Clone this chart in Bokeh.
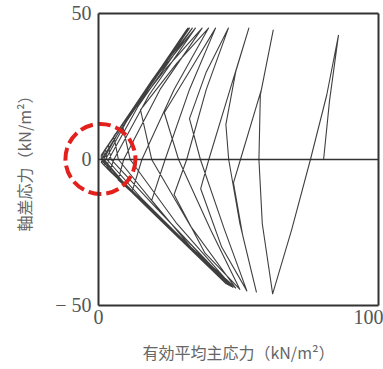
import numpy as np
from bokeh.plotting import figure
from bokeh.models import Range1d, FixedTicker, LinearAxis
from bokeh.embed import file_html
from bokeh.resources import INLINE

# Effective stress path (undrained cyclic triaxial test)
# p' : effective mean principal stress (kN/m2), q : deviator stress (kN/m2)
p_eff = [
    80.4, 82.5, 85.7,                       # initial loading
    81.5, 75.7, 69.0, 62.2,                 # cycle 1 down
    58.5, 57.3, 57.8, 62.4,                 # cycle 1 up
    58.2, 50.7, 48.2, 51.5, 56.4,           # cycle 2 down
    50.5, 46.5, 45.5, 49.0, 53.7,           # cycle 2 up
    47.0, 39.4, 36.5, 44.0, 53.0,           # cycle 3 down
    45.0, 36.4, 32.5, 38.5, 46.4,           # cycle 3 up
    38.5, 31.5, 27.0, 38.0, 50.5,           # cycle 4 down
    40.0, 28.6, 23.5, 33.0, 41.8,           # cycle 4 up
    32.5, 23.8, 19.0, 33.0, 49.0,           # cycle 5 down
    33.0, 19.0, 15.0, 28.0, 39.3,           # cycle 5 up
    27.0, 15.5, 12.0, 29.0, 48.0,           # cycle 6 down
    28.0, 11.3, 8.5, 24.0, 37.0,            # cycle 6 up
    22.0, 9.0, 7.0, 26.0, 47.5,             # cycle 7 down
    24.0, 7.1, 5.5, 22.0, 34.6,             # cycle 7 up
    18.0, 5.5, 4.0, 25.0, 47.0,             # cycle 8 down
    20.0, 4.5, 3.5, 20.0, 33.5,             # cycle 8 up
    14.0, 3.6, 3.0, 24.0, 46.5,             # cycle 9 down
    15.0, 3.0, 2.5, 19.0, 32.5,             # cycle 9 up
    10.0, 2.5, 2.0, 22.0, 46.0,             # cycle 10 down
    10.0, 2.0, 2.0, 18.0, 32.0,             # cycle 10 up
    7.0, 1.8, 1.5, 20.0, 46.0,              # cycle 11 down
    7.0, 1.5, 1.5, 17.0, 31.8,              # cycle 11 up
    5.0, 1.2, 1.0, 18.0, 45.5,              # cycle 12 down
    5.0, 1.0, 1.0, 16.0, 31.5,              # cycle 12 up
]
q_dev = [
    0.0, 20.0, 42.5,
    22.0, 0.0, -24.0, -46.0,
    -22.0, 0.0, 22.0, 44.3,
    24.0, 0.0, -8.0, -26.0, -45.4,
    -22.0, 0.0, 12.0, 30.0, 45.0,
    24.0, 0.0, -10.0, -30.0, -45.0,
    -24.0, 0.0, 14.0, 30.0, 45.0,
    24.0, 0.0, -12.0, -32.0, -44.5,
    -24.0, 0.0, 16.0, 31.0, 45.0,
    24.0, 0.0, -14.0, -30.0, -44.0,
    -23.0, 0.0, 17.0, 33.0, 45.0,
    24.0, 0.0, -11.0, -27.0, -43.8,
    -22.0, 0.0, 12.0, 31.0, 45.0,
    24.0, 0.0, -7.0, -23.5, -43.5,
    -20.0, 0.0, 8.0, 30.0, 45.0,
    22.0, 0.0, -4.0, -23.0, -43.3,
    -16.0, 0.0, 5.0, 28.0, 45.0,
    18.0, 0.0, -3.0, -22.0, -43.0,
    -13.0, 0.0, 3.5, 27.0, 45.0,
    13.0, 0.0, -2.0, -20.5, -42.8,
    -9.0, 0.0, 3.0, 25.5, 45.0,
    9.0, 0.0, -1.5, -18.8, -42.5,
    -6.0, 0.0, 2.0, 24.0, 44.8,
    6.0, 0.0, -1.0, -17.0, -42.5,
    -4.5, 0.0, 1.5, 22.5, 44.5,
]

x_min, x_max = 0, 100
y_min, y_max = -50, 50
x_ticks = [0, 100]
x_tick_labels = ["0", "100"]
y_ticks = [-50, 0, 50]
y_tick_labels = ["\u2212 50", "0", "50"]
x_label = "有効平均主応力（kN/m²）"
y_label = "軸差応力（kN/m²）"

# highlighted region (red dashed circle) around the origin
circle_x = [0.7]
circle_y = [0.2]
circle_radius_px = 35

ink = "#333333"
text_col = "#555555"

# The frame covers the whole canvas; the plot box is drawn by four axes fixed
# at the data limits, so the red circle can overlap the y axis and its labels.
p = figure(width=383, height=369, output_backend="svg", toolbar_location=None,
           x_range=Range1d(-35, 101.79), y_range=Range1d(-71.92, 54.45),
           min_border_left=0, min_border_right=0, min_border_top=0,
           min_border_bottom=0, background_fill_color="white",
           border_fill_color="white", outline_line_color=None)

p.xgrid.visible = False
p.ygrid.visible = False

xax = p.xaxis[0]
yax = p.yaxis[0]
xax.ticker = FixedTicker(ticks=x_ticks)
xax.major_label_overrides = {t: l for t, l in zip(x_ticks, x_tick_labels)}
xax.bounds = (x_min, x_max)
xax.fixed_location = y_min
yax.ticker = FixedTicker(ticks=y_ticks)
yax.major_label_overrides = {t: l for t, l in zip(y_ticks, y_tick_labels)}
yax.bounds = (y_min, y_max)
yax.fixed_location = x_min

top_ax = LinearAxis(ticker=FixedTicker(ticks=[]), bounds=(x_min, x_max),
                    fixed_location=y_max)
right_ax = LinearAxis(ticker=FixedTicker(ticks=[]), bounds=(y_min, y_max),
                      fixed_location=x_max)
p.add_layout(top_ax, "above")
p.add_layout(right_ax, "right")

for ax in (xax, yax, top_ax, right_ax):
    ax.axis_line_color = ink
    ax.axis_line_width = 2
    ax.major_tick_out = 0
    ax.major_tick_in = 0
    ax.minor_tick_out = 0
    ax.minor_tick_in = 0
    ax.major_label_text_font = "Liberation Serif"
    ax.major_label_text_font_size = "20px"
    ax.major_label_text_color = text_col
    ax.axis_label_text_font = "Noto Sans CJK JP"
    ax.axis_label_text_font_size = "16px"
    ax.axis_label_text_font_style = "normal"
    ax.axis_label_text_color = "#666666"

xax.major_label_standoff = 5
yax.major_label_standoff = 7
xax.axis_label = x_label
yax.axis_label = y_label
xax.axis_label_standoff = 12
yax.axis_label_standoff = 16

# q = 0 reference line across the plot box
p.line([x_min, x_max], [0, 0], line_color=ink, line_width=1.5)

p.line(p_eff, q_dev, line_color="#2a2a2a", line_width=1.1, line_alpha=0.9,
       line_join="round")

p.circle(circle_x, circle_y, radius=circle_radius_px, radius_units="screen",
         fill_color=None, line_color="#e3201c", line_width=4,
         line_dash="13 5")

open("out.html", "w").write(file_html(p, INLINE))
